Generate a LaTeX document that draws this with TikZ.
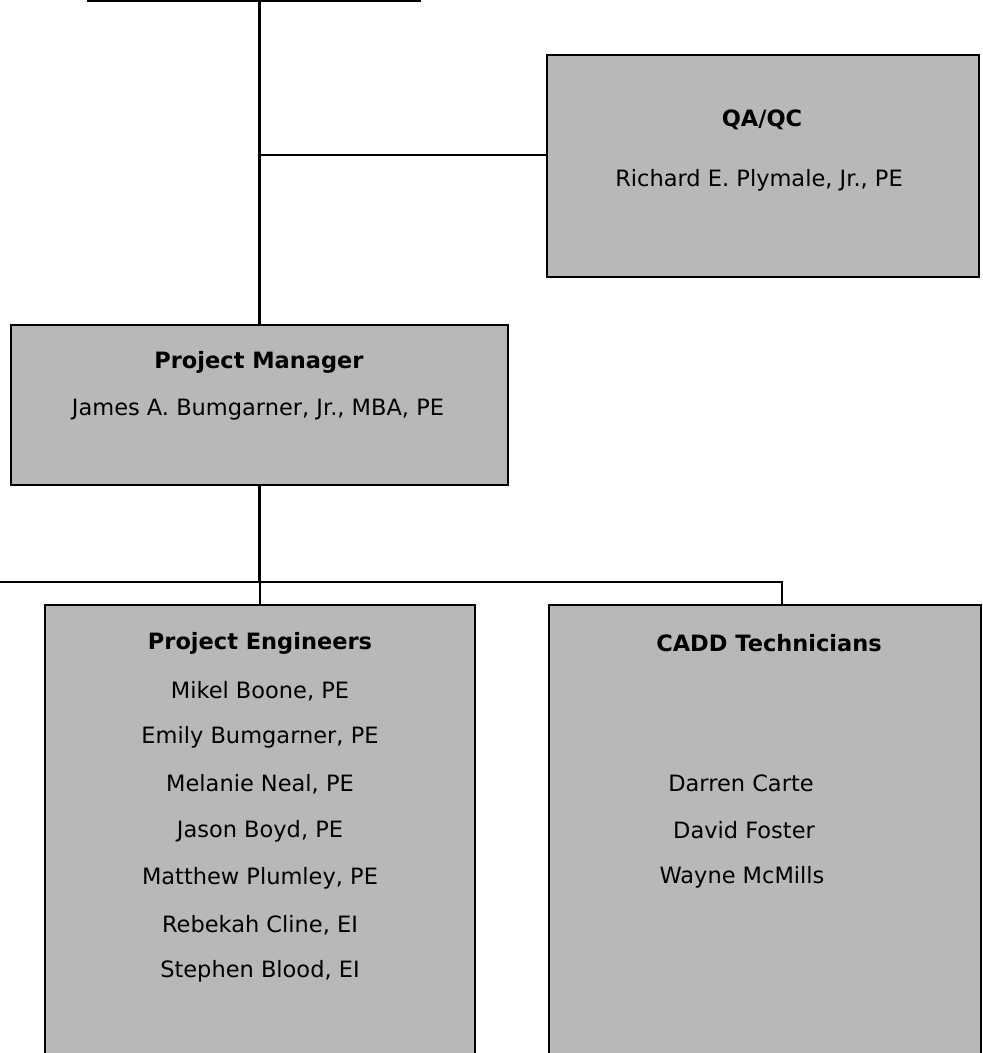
\documentclass[tikz,border=0pt]{standalone}
\usepackage{fontspec}
\setmainfont{DejaVu Sans}
\usetikzlibrary{fit}
\begin{document}
\begin{tikzpicture}[x=0.025cm,y=-0.025cm,
  box/.style={draw,line width=1.3pt,fill=black!28,inner sep=0pt},
  link/.style={line width=1.5pt},
  title/.style={font=\fontsize{16}{19}\selectfont\bfseries},
  member/.style={font=\fontsize{16}{19}\selectfont}]
\useasboundingbox (0,0) rectangle (982,1053);
\clip (0,0) rectangle (982,1053);
%boxes
\node (top) [box, fit={(88,-60) (420,1)}] {};
\node (qa) [box, fit={(547,55) (979,277)}] {};
\node (pm) [box, fit={(11,325) (508,485)}] {};
\node (pe) [box, fit={(45,605) (475,1080)}] {};
\node (cadd) [box, fit={(549,605) (981,1080)}] {};
%texts
\node (qa title) [title] at (762,120) {QA/QC};
\node (qa name) [member] at (759,180) {Richard E. Plymale, Jr., PE};
\node (pm title) [title] at (259,362) {Project Manager};
\node (pm name) [member] at (258,410) {James A. Bumgarner, Jr., MBA, PE};
\node (pe title) [title] at (260,643) {Project Engineers};
\foreach \who [count=\i] in {{Mikel Boone, PE}, {Emily Bumgarner, PE}, {Melanie Neal, PE},
  {Jason Boyd, PE}, {Matthew Plumley, PE}, {Rebekah Cline, EI}, {Stephen Blood, EI}}
  \node (pe\i) [member] at (260,644+46.8*\i) {\who};
\node (cadd title) [title] at (769,643) {CADD Technicians};
\node (cadd1) [member] at (741,783) {Darren Carte};
\node (cadd2) [member] at (744,830) {David Foster};
\node (cadd3) [member] at (742,877) {Wayne McMills};
%lines
\coordinate (qa hook) at (547,155);
\coordinate (bus) at (0,582);
\coordinate (cadd drop) at (782,582);
\draw [link] (pm.north) -- (pm.north |- top.south);
\draw [link] (qa hook) -- (qa hook -| pm.north);
\draw [link] (pm.south) -- (pm.south |- bus);
\draw [link] (bus) -- (cadd drop) -- (cadd drop |- cadd.north);
\draw [link] (pe.north |- bus) -- (pe.north);
\end{tikzpicture}
\end{document}
